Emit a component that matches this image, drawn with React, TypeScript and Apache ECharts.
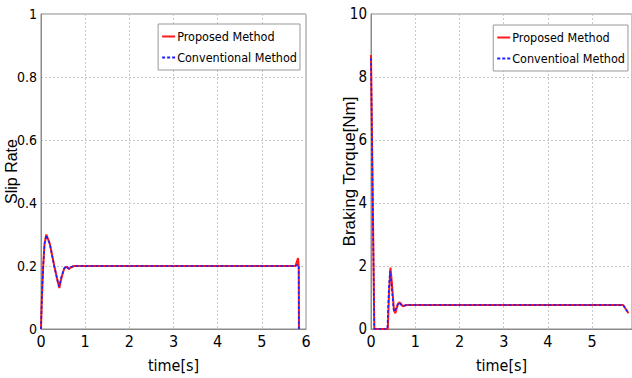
import React, { useEffect, useRef } from "react";
import * as echarts from "echarts";

const slipTicksX = [0, 1, 2, 3, 4, 5, 6];
const slipProposed: [number, number][] = [
  [0, 0], [0.02, 0.1], [0.05, 0.2], [0.08, 0.27], [0.12, 0.3], [0.2, 0.27], [0.3, 0.2],
  [0.38, 0.15], [0.415, 0.13], [0.46, 0.16], [0.52, 0.19], [0.57, 0.198], [0.63, 0.19],
  [0.68, 0.196], [0.75, 0.2], [5.76, 0.2], [5.82, 0.225], [5.835, 0.2], [5.84, 0],
];
const slipConventional: [number, number][] = [
  [0, 0], [0.02, 0.1], [0.05, 0.2], [0.08, 0.27], [0.12, 0.298], [0.2, 0.27], [0.3, 0.2],
  [0.38, 0.15], [0.41, 0.135], [0.46, 0.165], [0.52, 0.192], [0.57, 0.2], [0.63, 0.192],
  [0.68, 0.197], [0.75, 0.2], [5.76, 0.2], [5.82, 0.205], [5.835, 0.2], [5.84, 0],
];
const torqueProposed: [number, number][] = [
  [0, 8.7], [0.075, 0], [0.38, 0], [0.41, 1.2], [0.44, 1.95], [0.47, 1.5], [0.52, 0.6],
  [0.55, 0.5], [0.6, 0.75], [0.64, 0.85], [0.68, 0.8], [0.72, 0.72], [0.8, 0.76],
  [5.7, 0.76], [5.82, 0.5],
];
const torqueConventional: [number, number][] = [
  [0, 8.6], [0.075, 0], [0.37, 0], [0.4, 1.2], [0.43, 1.85], [0.46, 1.45], [0.51, 0.62],
  [0.54, 0.55], [0.59, 0.75], [0.63, 0.84], [0.67, 0.78], [0.71, 0.73], [0.8, 0.76],
  [5.7, 0.76], [5.8, 0.55],
];
const names = ["Proposed Method", "Conventional Method", "Conventioal Method"];

const NARROW = '"Liberation Sans Narrow", "DejaVu Sans Condensed", sans-serif';
const SANS = '"Liberation Sans", Arial, sans-serif';

export default function App() {
  const ref = useRef<HTMLDivElement>(null);
  useEffect(() => {
    if (!ref.current) return;
    const chart = echarts.init(ref.current, undefined, { renderer: "svg" });
    const axisLabel = { color: "#000", fontFamily: NARROW, fontSize: 15, margin: 4 };
    const splitLine = { show: true, lineStyle: { color: "#c8c8c8", type: [2, 2] as any, width: 1 } };
    const axisLine = { show: true, lineStyle: { color: "#8a8a8a", width: 1 } };
    const redLine = { color: "#ff1a1a", width: 2, type: "solid" as const };
    const blueLine = { color: "#2020ff", width: 1.6, type: [3, 2] as any };
    const legendCommon = {
      orient: "vertical" as const,
      backgroundColor: "#fff",
      borderColor: "#999",
      borderWidth: 1,
      padding: [6, 3, 6, 3],
      itemGap: 8,
      itemWidth: 13,
      itemHeight: 10,
      itemStyle: { opacity: 0 },
      textStyle: { fontFamily: NARROW, fontSize: 12.5, color: "#000", padding: [0, 0, 0, -3] },
    };
    chart.setOption({
      animation: false,
      grid: [
        { left: 41, top: 14, width: 265, height: 315, show: true, borderColor: "#8a8a8a", borderWidth: 1, outerBoundsMode: "none", containLabel: false },
        { left: 371, top: 14, width: 261, height: 315, show: true, borderColor: "#8a8a8a", borderWidth: 1, outerBoundsMode: "none", containLabel: false },
      ],
      xAxis: [
        {
          type: "value", gridIndex: 0, min: slipTicksX[0], max: slipTicksX[slipTicksX.length - 1], interval: 1,
          axisLine, axisTick: { show: false }, splitLine, axisLabel: { ...axisLabel, fontSize: 16 },
          name: "time[s]", nameLocation: "middle", nameGap: 28, nameMoveOverlap: false,
          nameTextStyle: { fontFamily: NARROW, fontSize: 16, color: "#000" },
        },
        {
          type: "value", gridIndex: 1, min: 0, max: 5.9, interval: 1,
          axisLine, axisTick: { show: false }, splitLine,
          axisLabel: { ...axisLabel, fontSize: 16, showMaxLabel: false, formatter: (v: number) => (Number.isInteger(v) ? String(v) : "") },
          name: "time[s]", nameLocation: "middle", nameGap: 28, nameMoveOverlap: false,
          nameTextStyle: { fontFamily: NARROW, fontSize: 16, color: "#000" },
        },
      ],
      yAxis: [
        {
          type: "value", gridIndex: 0, min: 0, max: 1, interval: 0.2,
          axisLine, axisTick: { show: false }, splitLine, axisLabel: { ...axisLabel, fontSize: 14 },
          name: "Slip Rate", nameLocation: "middle", nameGap: 22, nameMoveOverlap: false,
          nameTextStyle: { fontFamily: SANS, fontSize: 16, color: "#000" },
        },
        {
          type: "value", gridIndex: 1, min: 0, max: 10, interval: 2,
          axisLine, axisTick: { show: false }, splitLine, axisLabel,
          name: "Braking Torque[Nm]", nameLocation: "middle", nameGap: 13, nameMoveOverlap: false,
          nameTextStyle: { fontFamily: SANS, fontSize: 17, color: "#000" },
        },
      ],
      legend: [
        { ...legendCommon, right: 332, top: 24, data: [names[0], names[1]] },
        { ...legendCommon, right: 4, top: 25, data: [names[0], names[2]] },
      ],
      series: [
        { type: "line", name: names[0], xAxisIndex: 0, yAxisIndex: 0, data: slipProposed, showSymbol: false, symbol: "none", lineStyle: redLine, itemStyle: { color: redLine.color } },
        { type: "line", name: names[1], xAxisIndex: 0, yAxisIndex: 0, data: slipConventional, showSymbol: false, symbol: "none", lineStyle: blueLine, itemStyle: { color: blueLine.color } },
        { type: "line", name: names[0], xAxisIndex: 1, yAxisIndex: 1, data: torqueProposed, showSymbol: false, symbol: "none", lineStyle: redLine, itemStyle: { color: redLine.color } },
        { type: "line", name: names[2], xAxisIndex: 1, yAxisIndex: 1, data: torqueConventional, showSymbol: false, symbol: "none", lineStyle: blueLine, itemStyle: { color: blueLine.color } },
      ],
    });
    return () => chart.dispose();
  }, []);
  return (
    <div
      ref={ref}
      style={{ position: "fixed", left: 0, top: 0, width: 632, height: 378, background: "#fff" }}
    />
  );
}
